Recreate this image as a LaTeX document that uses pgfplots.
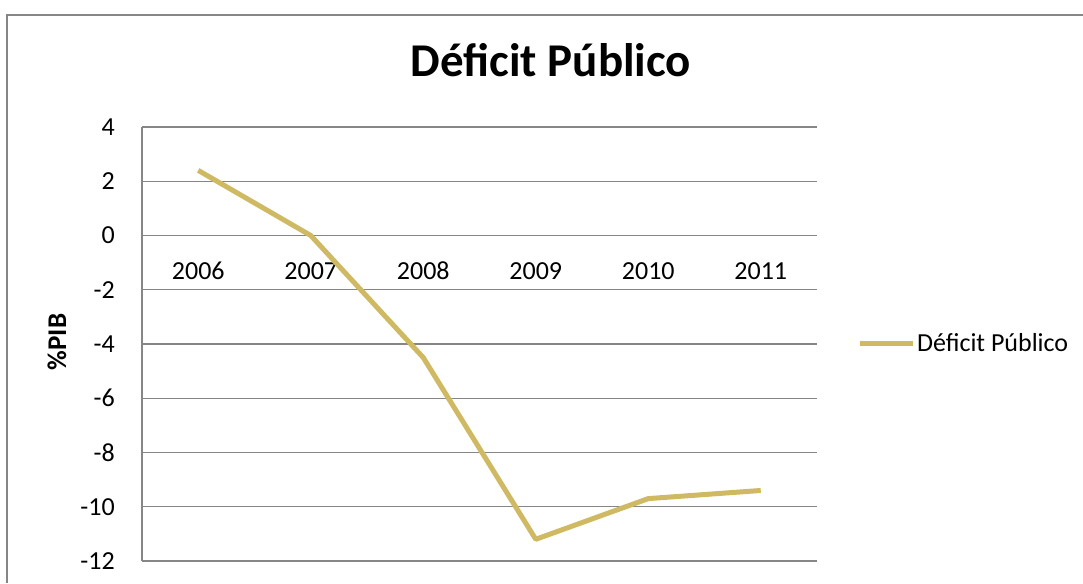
\documentclass[border=0pt]{standalone}
\usepackage{pgfplots}
\pgfplotsset{compat=1.18}
\usepackage{fontspec}
\setmainfont{Carlito}
\definecolor{linegold}{RGB}{207,185,98}
\definecolor{gridgray}{RGB}{134,134,134}
\begin{document}
\begin{tikzpicture}[x=1pt,y=1pt]
\useasboundingbox (0,0) rectangle (1083,583);
\draw[gridgray, line width=1.6pt] (7,0) |- (1083,568);
\node[font=\fontsize{47}{52}\selectfont\bfseries] at (551,523) {Déficit Público};
\node[font=\fontsize{27}{30}\selectfont\bfseries, rotate=90] at (57,241) {\%PIB};
\begin{axis}[
  at={(142pt,22pt)}, anchor=south west,
  scale only axis, width=675pt, height=434pt,
  xmin=-0.5, xmax=5.5, ymin=-12, ymax=4,
  axis x line=middle, axis y line=left,
  axis line style={-, gridgray, line width=1.3pt},
  xtick={0,...,5},
  xticklabels={2006,2007,2008,2009,2010,2011},
  ytick={-12,-10,...,4},
  yticklabels={{-12},{-10},{-8},{-6},{-4},{-2},{0},{2},{4}},
  major tick length=0pt,
  ymajorgrids,
  grid style={gridgray, line width=1.3pt},
  tick label style={font=\fontsize{26}{30}\selectfont},
  xticklabel style={anchor=base, inner sep=0pt, yshift=-44pt},
  yticklabel style={anchor=east, inner sep=0pt, xshift=-27pt},
  legend style={at={(1.059,0.502)}, anchor=west, draw=none, fill=none,
    inner sep=0pt, font=\fontsize{26}{30}\selectfont},
  legend cell align=left,
  legend image code/.code={\draw[#1, line width=5pt] (0pt,0pt) -- (53pt,0pt);},
  clip=false,
]
\addplot[linegold, line width=5pt, line join=round] coordinates {
  (0,2.4) (1,0.0) (2,-4.5) (3,-11.2) (4,-9.7) (5,-9.4)
};
\addlegendentry{Déficit Público}
\end{axis}
\end{tikzpicture}
\end{document}
